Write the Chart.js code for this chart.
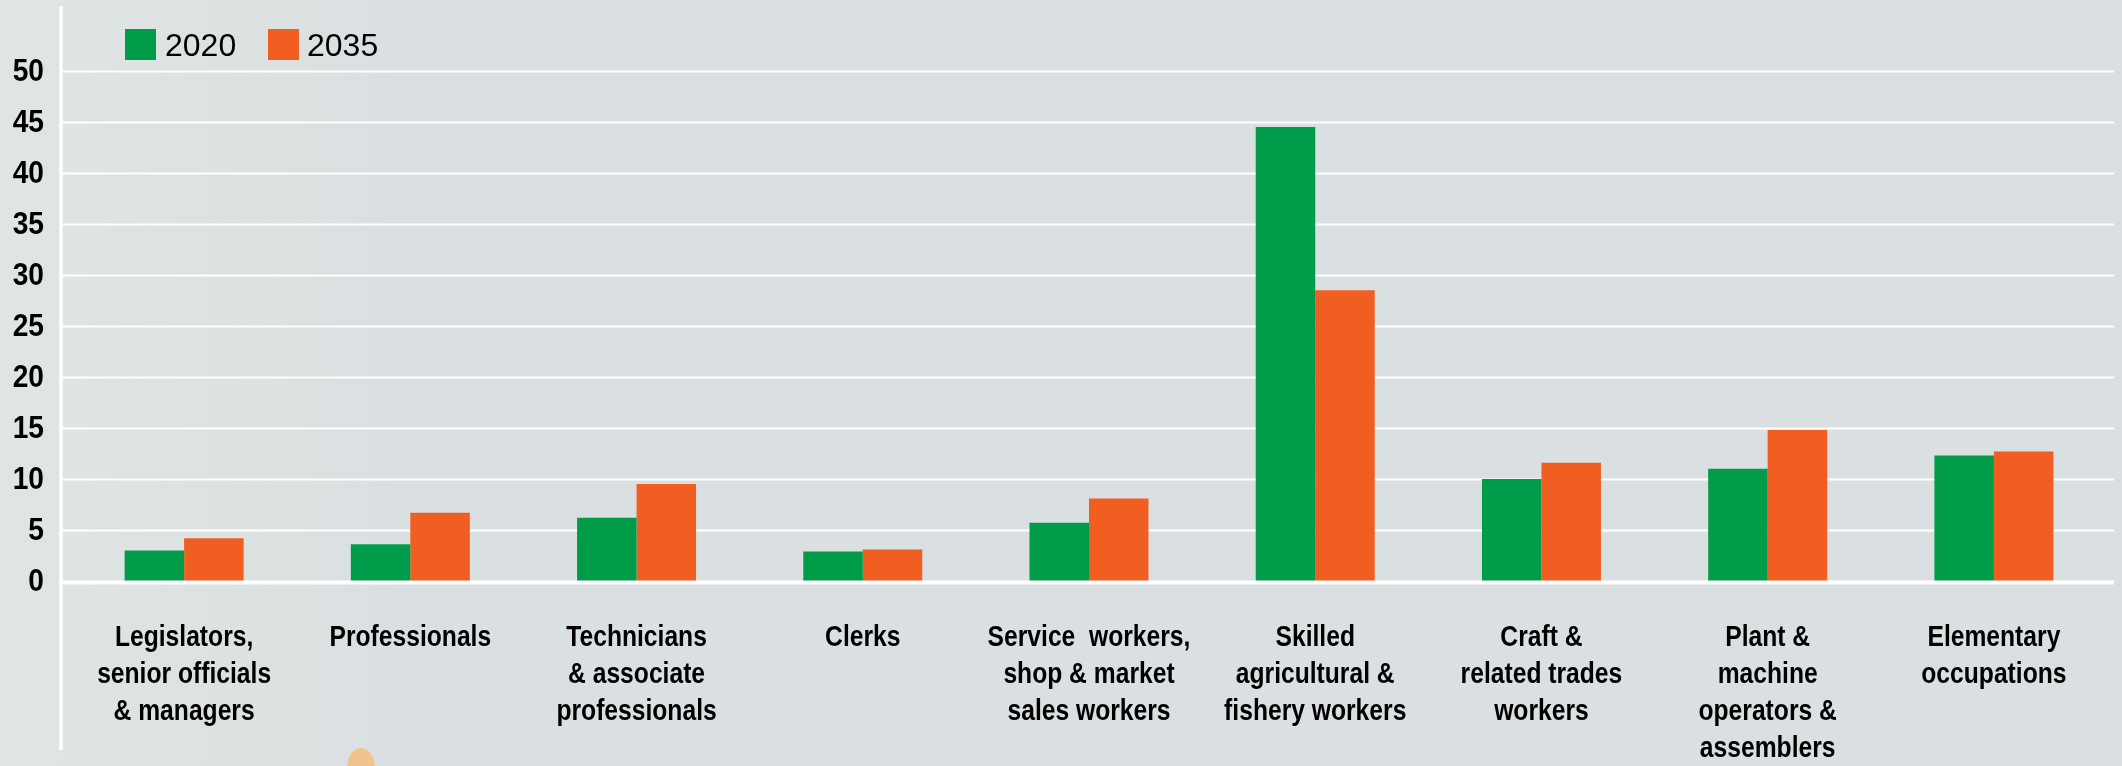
<!DOCTYPE html>
<html>
<head>
<meta charset="utf-8">
<script src="https://cdn.jsdelivr.net/npm/chart.js@4.4.1/dist/chart.umd.min.js"></script>
<style>
  html, body { margin: 0; padding: 0; background: #dadfe1; }
  canvas { display: block; }
</style>
</head>
<body>
<canvas id="c" width="2122" height="766"></canvas>
<script>
const categories = [
  ["Legislators,", "senior officials", "& managers"],
  ["Professionals"],
  ["Technicians", "& associate", "professionals"],
  ["Clerks"],
  ["Service  workers,", "shop & market", "sales workers"],
  ["Skilled", "agricultural &", "fishery workers"],
  ["Craft &", "related trades", "workers"],
  ["Plant &", "machine", "operators &", "assemblers"],
  ["Elementary", "occupations"]
];
const seriesNames = ["2020", "2035"];
const values2020 = [3.0, 3.6, 6.2, 2.9, 5.7, 44.5, 10.0, 11.0, 12.3];
const values2035 = [4.2, 6.7, 9.5, 3.1, 8.1, 28.5, 11.6, 14.8, 12.7];
const yMin = 0, yMax = 50, yStep = 5;

const GREEN = '#009c49';
const ORANGE = '#f15e22';
const SANS = "'Liberation Sans', Arial, sans-serif";

const decor = {
  id: 'decor',
  beforeDraw(chart) {
    const ctx = chart.ctx;
    ctx.save();
    ctx.fillStyle = '#dadfe1';
    ctx.fillRect(0, 0, chart.width, chart.height);
    const g = ctx.createLinearGradient(0, 0, 400, 0);
    g.addColorStop(0, 'rgba(225,232,228,0.7)');
    g.addColorStop(1, 'rgba(225,232,228,0)');
    ctx.fillStyle = g;
    ctx.fillRect(0, 0, 400, chart.height);
    // small peach blob at bottom
    ctx.fillStyle = '#f1c48e';
    ctx.beginPath();
    ctx.ellipse(361, 768, 14, 20, 0, 0, Math.PI * 2);
    ctx.fill();
    ctx.restore();
  },
  beforeDatasetsDraw(chart) {
    const ctx = chart.ctx;
    const y = chart.scales.y;
    ctx.save();
    ctx.strokeStyle = '#ffffff';
    y.ticks.forEach(t => {
      if (t.value === 0) return;
      const py = Math.round(y.getPixelForValue(t.value)) + 0.5;
      ctx.lineWidth = 2;
      ctx.beginPath();
      ctx.moveTo(63, py);
      ctx.lineTo(2114, py);
      ctx.stroke();
    });
    ctx.restore();
  },
  afterDatasetsDraw(chart) {
    const ctx = chart.ctx;
    const x = chart.scales.x;
    const y = chart.scales.y;
    ctx.save();
    ctx.strokeStyle = '#ffffff';
    const p0 = y.getPixelForValue(0) + 1.5;
    ctx.lineWidth = 4;
    ctx.beginPath();
    ctx.moveTo(63, p0);
    ctx.lineTo(2114, p0);
    ctx.stroke();
    // vertical axis line
    ctx.lineWidth = 3.5;
    ctx.beginPath();
    ctx.moveTo(61, 6);
    ctx.lineTo(61, 750);
    ctx.stroke();

    // y tick labels (condensed)
    ctx.fillStyle = '#000';
    ctx.font = "bold 32px " + SANS;
    ctx.textAlign = 'right';
    ctx.textBaseline = 'alphabetic';
    y.ticks.forEach(t => {
      const py = y.getPixelForValue(t.value);
      ctx.save();
      ctx.translate(44, py + 10);
      ctx.scale(0.88, 1);
      ctx.fillText(String(t.value), 0, 0);
      ctx.restore();
    });

    // x category labels (condensed)
    ctx.font = "bold 29px " + SANS;
    ctx.textAlign = 'center';
    chart.data.labels.forEach((lines, i) => {
      const px = x.getPixelForTick(i);
      lines.forEach((ln, j) => {
        ctx.save();
        ctx.translate(px, 645.5 + j * 37.3);
        ctx.scale(0.85, 1);
        ctx.fillText(ln, 0, 0);
        ctx.restore();
      });
    });

    // legend
    const items = chart.data.datasets;
    const boxX = [125, 268];
    const textX = [165, 307];
    ctx.font = "32px " + SANS;
    ctx.textAlign = 'left';
    items.forEach((ds, i) => {
      ctx.fillStyle = ds.backgroundColor;
      ctx.fillRect(boxX[i], 29, 31, 31);
      ctx.fillStyle = '#000';
      ctx.fillText(ds.label, textX[i], 56);
    });
    ctx.restore();
  }
};

new Chart(document.getElementById('c'), {
  type: 'bar',
  data: {
    labels: categories,
    datasets: [
      { label: seriesNames[0], data: values2020, backgroundColor: GREEN, borderWidth: 0 },
      { label: seriesNames[1], data: values2035, backgroundColor: ORANGE, borderWidth: 0 }
    ]
  },
  options: {
    responsive: false,
    devicePixelRatio: 1,
    animation: false,
    layout: { padding: { top: 71, right: 15, bottom: 0, left: 0 } },
    datasets: { bar: { categoryPercentage: 0.526, barPercentage: 1.0 } },
    plugins: {
      legend: { display: false },
      tooltip: { enabled: false }
    },
    scales: {
      x: {
        grid: { display: false, drawTicks: false },
        border: { display: false },
        ticks: { display: false, autoSkip: false },
        afterFit(scale) { scale.height = 185; }
      },
      y: {
        min: yMin,
        max: yMax,
        grid: { display: false, drawTicks: false },
        border: { display: false },
        ticks: { display: false, stepSize: yStep },
        afterFit(scale) { scale.width = 71; }
      }
    }
  },
  plugins: [decor]
});
</script>
</body>
</html>
